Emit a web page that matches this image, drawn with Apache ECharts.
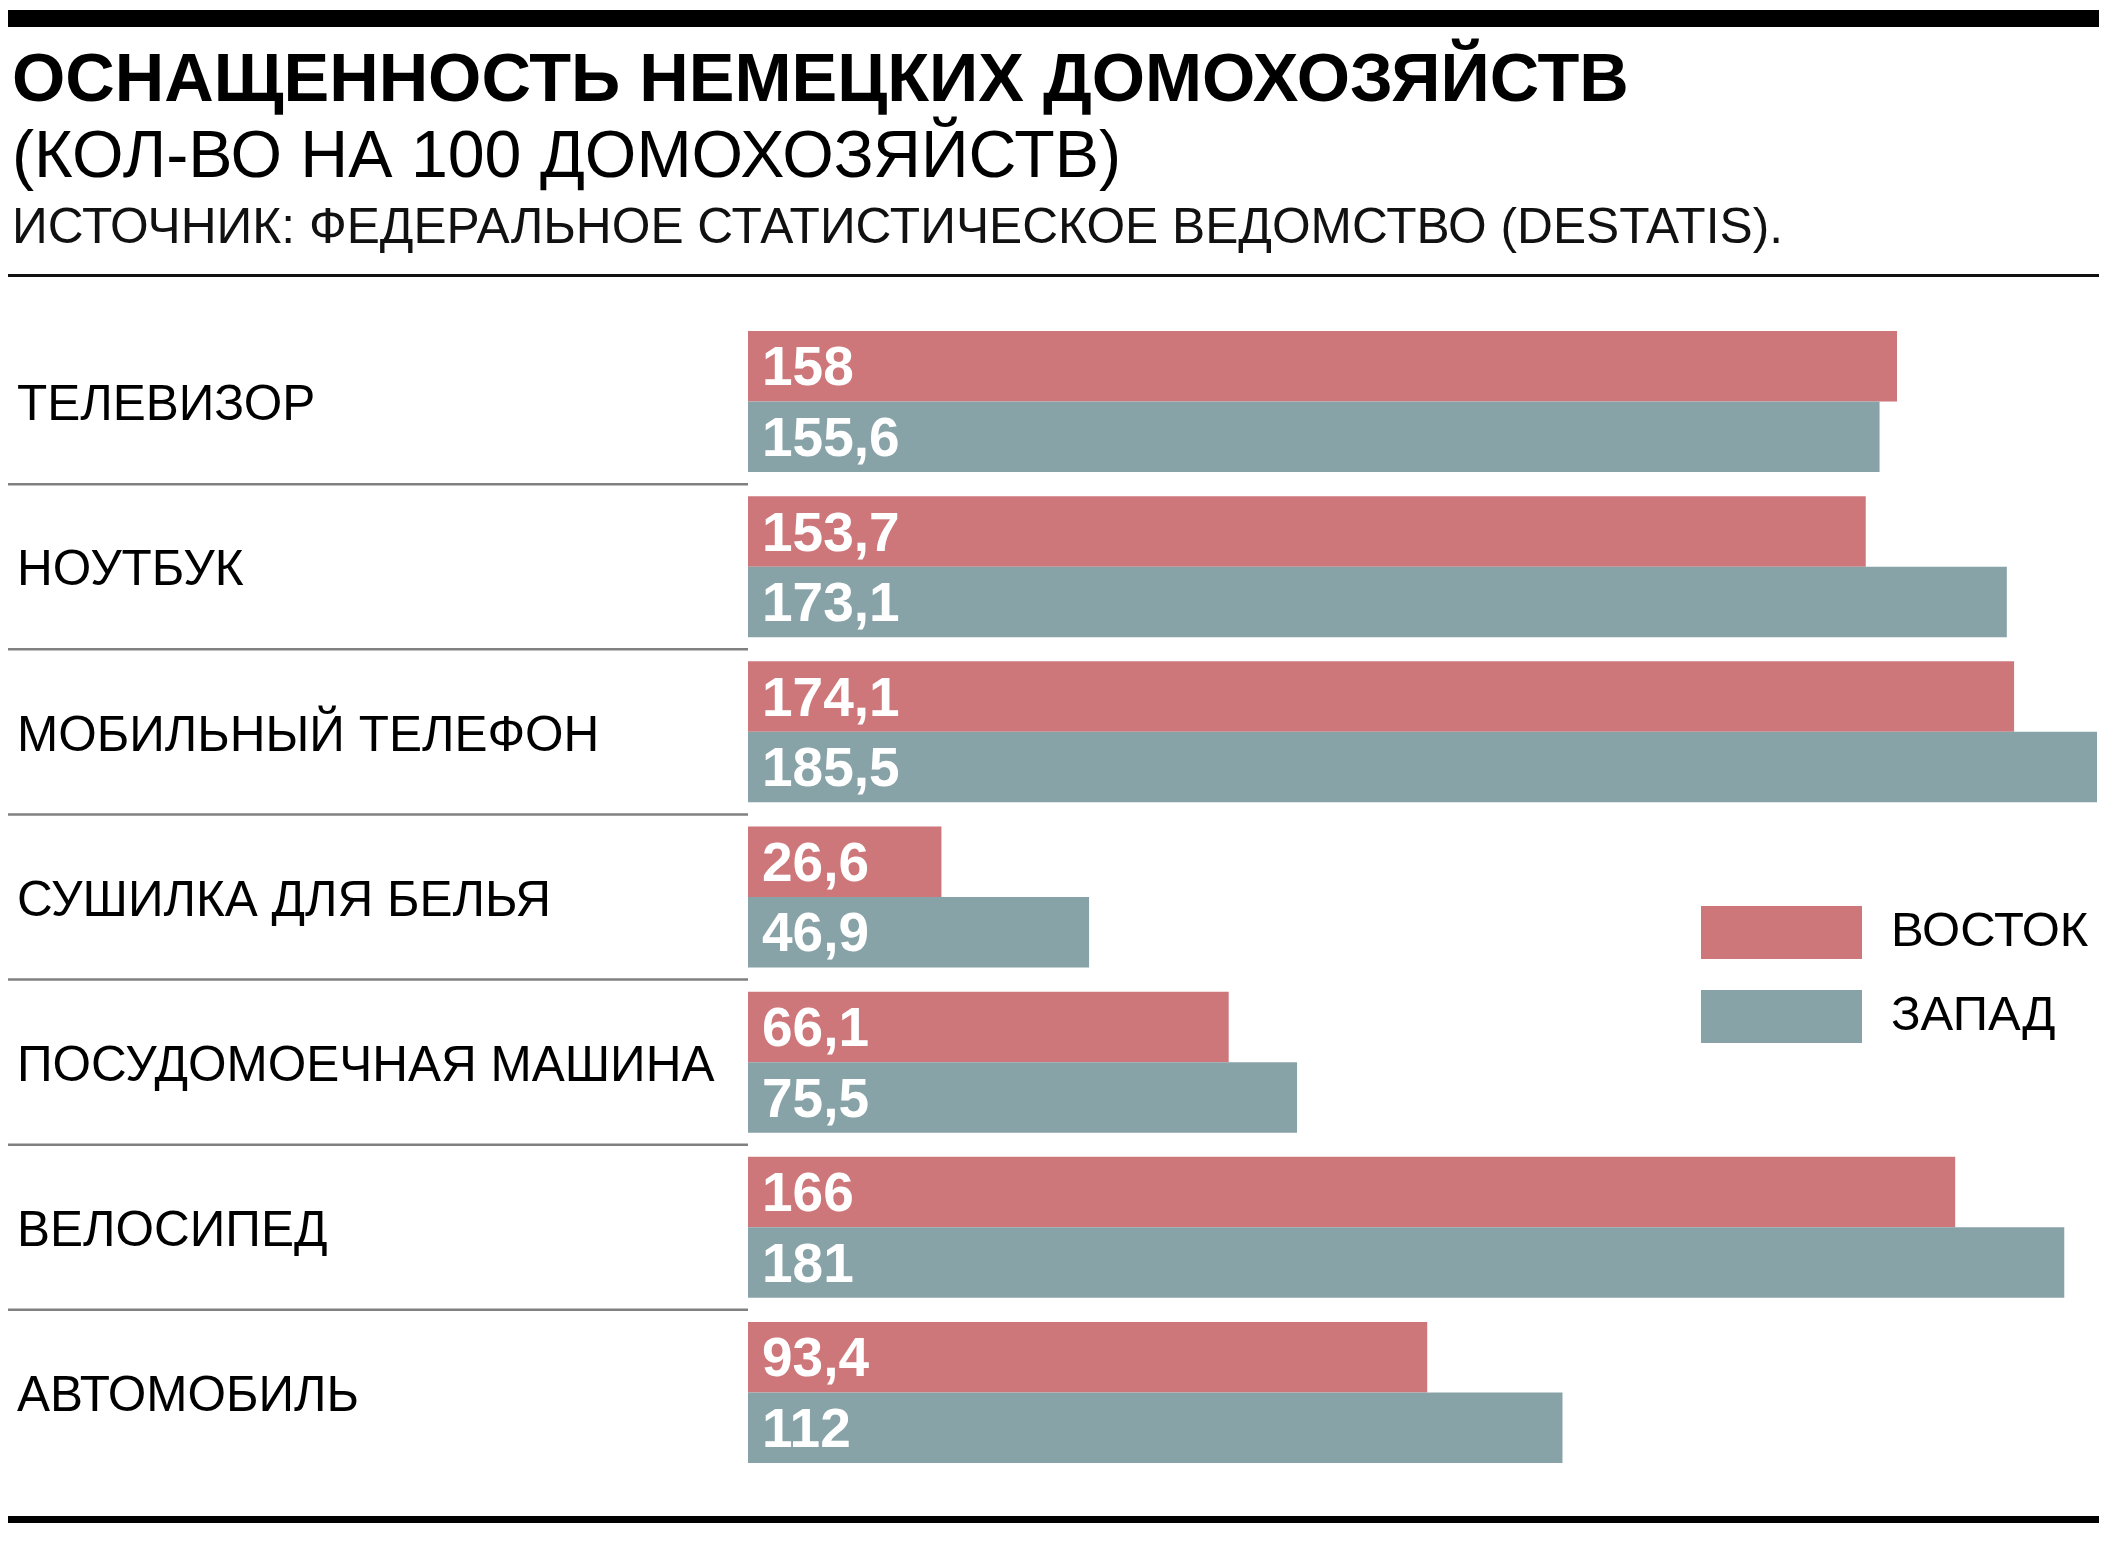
<!DOCTYPE html>
<html>
<head>
<meta charset="utf-8">
<script src="https://cdn.jsdelivr.net/npm/echarts@6/dist/echarts.min.js"></script>
<style>html,body{margin:0;padding:0;background:#fff}#c{width:2110px;height:1546px}</style>
</head>
<body>
<div id="c"></div>
<script>
const titleText = 'ОСНАЩЕННОСТЬ НЕМЕЦКИХ ДОМОХОЗЯЙСТВ';
const subtitleText = '(КОЛ-ВО НА 100 ДОМОХОЗЯЙСТВ)';
const sourceText = 'ИСТОЧНИК: ФЕДЕРАЛЬНОЕ СТАТИСТИЧЕСКОЕ ВЕДОМСТВО (DESTATIS).';
const categories = ['ТЕЛЕВИЗОР', 'НОУТБУК', 'МОБИЛЬНЫЙ ТЕЛЕФОН', 'СУШИЛКА ДЛЯ БЕЛЬЯ', 'ПОСУДОМОЕЧНАЯ МАШИНА', 'ВЕЛОСИПЕД', 'АВТОМОБИЛЬ'];
const seriesNames = ['ВОСТОК', 'ЗАПАД'];
const eastValues = [158, 153.7, 174.1, 26.6, 66.1, 166, 93.4];
const westValues = [155.6, 173.1, 185.5, 46.9, 75.5, 181, 112];
const colors = ['#CE777A', '#87A3A8'];

const FONT = '"Liberation Sans", Arial, sans-serif';
const gridTop = 319, gridHeight = 1156;

const fmt = p => String(p.value).replace('.', ',');
const valueLabel = {
  show: true, position: 'insideLeft', distance: 14, offset: [0, 4],
  color: '#fff', fontSize: 55, fontWeight: 'bold', fontFamily: FONT,
  formatter: fmt
};

const chart = echarts.init(document.getElementById('c'), null, {renderer: 'canvas'});
chart.setOption({
  backgroundColor: '#fff',
  animation: false,
  title: [
    {text: titleText, left: 12, top: 48, padding: 0,
     textStyle: {fontFamily: FONT, fontSize: 68.5, fontWeight: 'bold', color: '#000'}},
    {text: subtitleText, left: 12, top: 126, padding: 0,
     textStyle: {fontFamily: FONT, fontSize: 66.3, fontWeight: 'normal', color: '#000'}},
    {text: sourceText, left: 12, top: 204, padding: 0,
     textStyle: {fontFamily: FONT, fontSize: 49.7, fontWeight: 'normal', color: '#111'}}
  ],
  graphic: [
    {type: 'rect', left: 8, top: 10, shape: {width: 2091, height: 17}, style: {fill: '#000'}},
    {type: 'rect', left: 8, top: 274, shape: {width: 2091, height: 3}, style: {fill: '#111'}},
    {type: 'rect', left: 8, top: 1516, shape: {width: 2091, height: 7}, style: {fill: '#000'}}
  ],
  legend: {
    orient: 'vertical', left: 1701, top: 906, padding: 0,
    itemWidth: 161, itemHeight: 53, itemGap: 31,
    icon: 'rect',
    data: seriesNames,
    textStyle: {fontFamily: FONT, fontSize: 49, color: '#000', padding: [0, 0, 0, 24]}
  },
  grid: [
    {left: 748, right: 13, top: gridTop, height: gridHeight},
    {left: 8, width: 740, top: gridTop, height: gridHeight}
  ],
  xAxis: [
    {type: 'value', gridIndex: 0, min: 0, max: 'dataMax', show: false},
    {type: 'value', gridIndex: 1, min: 0, max: 1, show: false}
  ],
  yAxis: [
    {type: 'category', gridIndex: 0, data: categories, inverse: true,
     axisLine: {show: false}, axisTick: {show: false}, splitLine: {show: false},
     axisLabel: {show: true, align: 'left', margin: 731, fontFamily: FONT, fontSize: 49.5, color: '#000',
                 verticalAlign: 'top', lineHeight: 10}},
    {type: 'category', gridIndex: 1, data: categories, inverse: true, show: false}
  ],
  series: [
    {name: seriesNames[0], type: 'bar', xAxisIndex: 0, yAxisIndex: 0, data: eastValues,
     itemStyle: {color: colors[0]}, barGap: '0%', barCategoryGap: '14.6%', label: valueLabel},
    {name: seriesNames[1], type: 'bar', xAxisIndex: 0, yAxisIndex: 0, data: westValues,
     itemStyle: {color: colors[1]}, barGap: '0%', barCategoryGap: '14.6%', label: valueLabel},
    {type: 'custom', xAxisIndex: 1, yAxisIndex: 1, silent: true,
     data: categories.map((c, i) => [0, i]).slice(1),
     renderItem: function (params, api) {
       const idx = api.value(1);
       const band = api.size([0, 1])[1];
       const y = api.coord([0, idx])[1] - band / 2;
       const cs = params.coordSys;
       return {type: 'line', shape: {x1: cs.x, y1: y, x2: cs.x + cs.width, y2: y},
               style: {stroke: '#808080', lineWidth: 2.5}};
     }}
  ]
});
</script>
</body>
</html>
